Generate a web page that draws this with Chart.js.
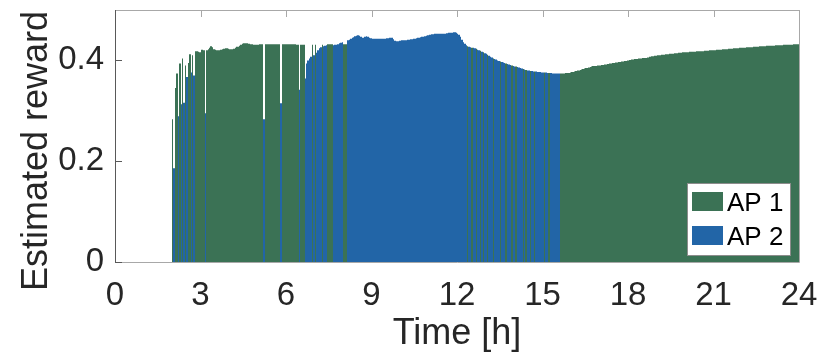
<!DOCTYPE html>
<html>
<head>
<meta charset="utf-8">
<title>Estimated reward per AP</title>
<script src="https://cdn.jsdelivr.net/npm/chart.js@4.4.1/dist/chart.umd.min.js"></script>
<style>
    html, body { margin: 0; padding: 0; background: #fff; }
    canvas { display: block; }
</style>
</head>
<body>
<canvas id="rewardChart" width="830" height="361"></canvas>
<script>
// 3-minute bins, the first one starts at 2:00 h
const binStart = 2.0;
const binHours = 0.05;

// AP selected in each bin (one line = one hour, 20 bins)
const chosenAp = [
    1,2,1,1,2,1,2,1,2,1, 2,1,1,2,1,2,1,1,1,1,
    1,1,1,2,1,1,1,1,1,1, 1,1,1,1,1,1,1,1,1,1,
    1,1,1,1,1,1,1,1,1,1, 1,1,1,1,1,1,1,1,1,1,
    1,1,1,1,2,1,1,1,1,1, 1,1,1,1,1,1,2,1,1,1,
    1,1,1,1,1,1,1,1,1,2, 1,1,1,2,2,2,2,2,1,2,
    1,2,2,2,2,1,2,2,2,1, 1,1,1,2,2,2,2,2,2,2,
    1,1,1,2,2,2,2,2,2,2, 2,2,2,2,2,2,2,2,2,2,
    2,2,2,2,2,2,2,2,2,2, 2,2,2,2,2,2,2,2,2,2,
    2,2,2,2,2,2,2,2,2,2, 2,2,2,2,2,2,2,2,2,2,
    2,2,2,2,2,2,2,2,2,2, 2,2,2,2,2,2,2,2,2,2,
    2,2,2,2,2,2,2,1,2,2, 1,2,2,1,2,2,1,2,1,2,
    2,1,2,2,2,1,2,2,2,2, 1,2,2,2,1,2,2,2,1,2,
    2,1,2,2,2,2,1,2,1,2, 2,1,2,2,1,2,2,2,2,2,
    2,1,2,2,1,2,2,2,2,2, 2,2,1,1,1,1,1,1,1,1,
    1,1,1,1,1,1,1,1,1,1, 1,1,1,1,1,1,1,1,1,1,
    1,1,1,1,1,1,1,1,1,1, 1,1,1,1,1,1,1,1,1,1,
    1,1,1,1,1,1,1,1,1,1, 1,1,1,1,1,1,1,1,1,1,
    1,1,1,1,1,1,1,1,1,1, 1,1,1,1,1,1,1,1,1,1,
    1,1,1,1,1,1,1,1,1,1, 1,1,1,1,1,1,1,1,1,1,
    1,1,1,1,1,1,1,1,1,1, 1,1,1,1,1,1,1,1,1,1,
    1,1,1,1,1,1,1,1,1,1, 1,1,1,1,1,1,1,1,1,1,
    1,1,1,1,1,1,1,1,1,1, 1,1,1,1,1,1,1,1,1,1
];

// estimated reward of the selected AP in each bin
const reward = [
    .283,.186,.345,.374,.289,.394,.313,.404,.316,.390, .367,.395,.412,.376,.410,.370,.418,.418,.417,.416,
    .421,.421,.420,.295,.420,.422,.425,.428,.426,.422, .421,.420,.420,.420,.421,.422,.423,.424,.424,.423,
    .422,.422,.422,.423,.425,.427,.427,.429,.431,.433, .434,.434,.434,.433,.433,.432,.432,.431,.431,.431,
    .431,.432,.432,.432,.283,.432,.432,.432,.432,.432, .432,.432,.432,.432,.432,.432,.315,.432,.432,.432,
    .432,.432,.432,.432,.432,.432,.432,.431,.431,.342, .431,.431,.431,.364,.394,.400,.404,.407,.431,.410,
    .431,.415,.420,.424,.426,.431,.428,.429,.430,.432, .432,.432,.432,.430,.431,.431,.432,.434,.435,.436,
    .432,.432,.432,.440,.441,.443,.445,.446,.448,.449, .450,.449,.447,.445,.445,.447,.448,.447,.445,.444,
    .443,.443,.443,.443,.443,.443,.443,.443,.443,.443, .444,.444,.445,.445,.445,.442,.439,.438,.438,.439,
    .439,.440,.440,.440,.440,.441,.441,.442,.442,.443, .443,.444,.445,.445,.446,.447,.447,.448,.449,.450,
    .451,.451,.452,.452,.453,.453,.453,.453,.453,.453, .453,.453,.454,.454,.455,.455,.455,.456,.456,.455,
    .453,.451,.447,.441,.436,.433,.430,.428,.427,.426, .425,.425,.424,.423,.421,.420,.419,.417,.416,.414,
    .413,.411,.409,.407,.406,.404,.403,.402,.400,.399, .398,.397,.396,.395,.394,.393,.392,.391,.390,.389,
    .388,.388,.387,.386,.385,.384,.383,.382,.381,.380, .380,.379,.379,.378,.378,.378,.377,.377,.377,.376,
    .376,.376,.376,.375,.375,.375,.375,.374,.374,.374, .374,.374,.374,.374,.374,.374,.375,.375,.375,.376,
    .377,.377,.378,.379,.380,.380,.381,.382,.383,.384, .385,.385,.386,.387,.388,.389,.389,.389,.390,.390,
    .390,.391,.391,.392,.392,.393,.393,.394,.394,.395, .395,.396,.396,.397,.397,.398,.398,.399,.399,.400,
    .400,.401,.402,.402,.403,.403,.403,.404,.404,.404, .405,.405,.405,.406,.406,.407,.408,.408,.409,.409,
    .410,.410,.410,.411,.411,.411,.412,.412,.412,.413, .413,.413,.414,.414,.414,.415,.415,.415,.416,.416,
    .416,.416,.416,.417,.417,.417,.417,.417,.418,.418, .418,.418,.418,.419,.419,.419,.419,.420,.420,.420,
    .420,.420,.421,.421,.421,.421,.422,.422,.422,.422, .423,.423,.423,.423,.424,.424,.424,.424,.425,.425,
    .425,.425,.425,.426,.426,.426,.426,.426,.427,.427, .427,.427,.428,.428,.428,.428,.428,.429,.429,.429,
    .429,.429,.429,.430,.430,.430,.430,.430,.430,.431, .431,.431,.431,.431,.431,.431,.432,.432,.432,.432
];

const apLabels = ['AP 1', 'AP 2'];
const apColors = ['#3b7255', '#2265a7'];

const xTicks = [0, 3, 6, 9, 12, 15, 18, 21, 24];
const yTicks = [0, 0.2, 0.4];
const yTickLabels = ['0', '0.2', '0.4'];
const yTitle = 'Estimated reward';

const textColor = '#262626';
const fontFamily = '"Liberation Sans", Arial, Helvetica, sans-serif';
Chart.defaults.font.family = fontFamily;
Chart.defaults.color = textColor;

function pointsFor(ap) {
    const pts = [];
    reward.forEach((r, i) => {
        if (chosenAp[i] === ap) {
            pts.push({ x: binStart + (i + 0.5) * binHours, y: r, bin: i });
        }
    });
    return pts;
}

// keep the plot box exactly where the layout padding puts it
function noScalePadding(s) {
    s.paddingTop = 0;
    s.paddingBottom = 0;
    s.paddingLeft = 0;
    s.paddingRight = 0;
}

// snap bar edges to whole pixels of the bin borders so neighbouring bins meet without seams
const snapBars = {
    id: 'snapBars',
    beforeDatasetsDraw(chart) {
        const xs = chart.scales.x;
        const edge = i => Math.round(xs.getPixelForValue(binStart + i * binHours));
        chart.data.datasets.forEach((ds, k) => {
            chart.getDatasetMeta(k).data.forEach((el, j) => {
                const bin = ds.data[j].bin;
                const l = edge(bin);
                const r = edge(bin + 1);
                el.x = (l + r) / 2;
                el.width = r - l;
            });
        });
    }
};

// MATLAB-like box with inward ticks, drawn under the bars
const axesFrame = {
    id: 'axesFrame',
    beforeDatasetsDraw(chart) {
        const { ctx, chartArea: a, scales: { x, y } } = chart;
        ctx.save();
        ctx.lineWidth = 1;
        ctx.strokeStyle = '#a8a8a8';
        ctx.beginPath();
        ctx.moveTo(a.left, a.top + 0.5);
        ctx.lineTo(a.right + 0.5, a.top + 0.5);
        ctx.lineTo(a.right + 0.5, a.bottom + 0.5);
        ctx.lineTo(a.left, a.bottom + 0.5);
        xTicks.forEach(v => {
            const px = Math.round(x.getPixelForValue(v)) + 0.5;
            ctx.moveTo(px, a.top);
            ctx.lineTo(px, a.top + 7);
            ctx.moveTo(px, a.bottom);
            ctx.lineTo(px, a.bottom - 7);
        });
        yTicks.forEach(v => {
            const py = Math.round(y.getPixelForValue(v)) + 0.5;
            ctx.moveTo(a.right, py);
            ctx.lineTo(a.right - 7, py);
        });
        ctx.stroke();

        ctx.strokeStyle = '#595959';
        ctx.beginPath();
        ctx.moveTo(a.left + 0.5, a.top);
        ctx.lineTo(a.left + 0.5, a.bottom + 1);
        yTicks.forEach(v => {
            const py = Math.round(y.getPixelForValue(v)) + 0.5;
            ctx.moveTo(a.left, py);
            ctx.lineTo(a.left + 7, py);
        });
        ctx.stroke();
        ctx.restore();
    }
};

// y title sits a bit lower than the plot centre in the original figure
const yAxisTitle = {
    id: 'yAxisTitle',
    afterDraw(chart) {
        const { ctx, chartArea: a } = chart;
        ctx.save();
        ctx.translate(47, (a.top + a.bottom) / 2 + 15);
        ctx.rotate(-Math.PI / 2);
        ctx.font = '36px ' + fontFamily;
        ctx.fillStyle = textColor;
        ctx.textAlign = 'center';
        ctx.textBaseline = 'alphabetic';
        ctx.fillText(yTitle, 0, 0);
        ctx.restore();
    }
};

// boxed legend in the lower right corner of the plot
const boxLegend = {
    id: 'boxLegend',
    afterDraw(chart) {
        const { ctx, chartArea: a } = chart;
        const w = 103, h = 72;
        const bx = Math.round(a.right - 9 - w);
        const by = Math.round(a.bottom - 7 - h);
        ctx.save();
        ctx.fillStyle = '#fff';
        ctx.fillRect(bx, by, w, h);
        ctx.strokeStyle = '#8c8c8c';
        ctx.lineWidth = 1;
        ctx.strokeRect(bx + 0.5, by + 0.5, w, h);
        ctx.font = '26px ' + fontFamily;
        ctx.textBaseline = 'alphabetic';
        chart.data.datasets.forEach((ds, i) => {
            const sy = by + 9 + i * 34;
            ctx.fillStyle = ds.backgroundColor;
            ctx.fillRect(bx + 5, sy, 31, 19);
            ctx.fillStyle = '#000';
            ctx.fillText(ds.label, bx + 40, sy + 19);
        });
        ctx.restore();
    }
};

new Chart(document.getElementById('rewardChart'), {
    type: 'bar',
    data: {
        datasets: apLabels.map((label, k) => ({
            label: label,
            data: pointsFor(k + 1),
            backgroundColor: apColors[k],
            borderWidth: 0,
            inflateAmount: 0,
            barPercentage: 1,
            categoryPercentage: 1,
            grouped: false
        }))
    },
    options: {
        responsive: false,
        animation: false,
        devicePixelRatio: 1,
        layout: { padding: { left: 0, right: 31, top: 10, bottom: 0 } },
        plugins: {
            legend: { display: false },
            tooltip: { enabled: false }
        },
        scales: {
            x: {
                type: 'linear',
                min: 0,
                max: 24,
                offset: false,
                grid: { display: false, drawTicks: false },
                border: { display: false },
                afterFit: s => { s.height = 99; noScalePadding(s); },
                afterBuildTicks: s => { s.ticks = xTicks.map(v => ({ value: v })); },
                ticks: {
                    padding: 14,
                    maxRotation: 0,
                    autoSkip: false,
                    font: { size: 33 },
                    callback: v => String(v)
                },
                title: {
                    display: true,
                    text: 'Time [h]',
                    font: { size: 36 },
                    padding: { top: 0, bottom: 5 }
                }
            },
            y: {
                min: 0,
                max: 0.5,
                grid: { display: false, drawTicks: false },
                border: { display: false },
                afterFit: s => { s.width = 115; noScalePadding(s); },
                afterBuildTicks: s => { s.ticks = yTicks.map(v => ({ value: v })); },
                ticks: {
                    padding: 11,
                    font: { size: 33 },
                    callback: (v, i) => yTickLabels[i]
                },
                title: { display: false, text: yTitle }
            }
        }
    },
    plugins: [snapBars, axesFrame, yAxisTitle, boxLegend]
});
</script>
</body>
</html>
